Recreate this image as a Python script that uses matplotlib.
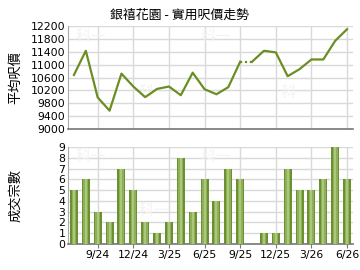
import matplotlib
matplotlib.use("Agg")
import matplotlib.pyplot as plt
import numpy as np

plt.rcParams['font.family'] = ['Noto Sans CJK TC', 'DejaVu Sans']

months = ['7/24', '8/24', '9/24', '10/24', '11/24', '12/24', '1/25', '2/25', '3/25',
          '4/25', '5/25', '6/25', '7/25', '8/25', '9/25', '10/25', '11/25', '12/25',
          '1/26', '2/26', '3/26', '4/26', '5/26', '6/26']
avg_price = [10680, 11430, 9980, 9570, 10720, 10320, 9990, 10245, 10320, 10050,
             10750, 10235, 10080, 10300, 11090, 11090, 11430, 11380, 10640, 10860,
             11160, 11160, 11740, 12100]
deals = [5, 6, 3, 2, 7, 5, 2, 1, 2, 8, 3, 6, 4, 7, 6, 0, 1, 1, 7, 5, 5, 6, 9, 6]
tick_labels = ['9/24', '12/24', '3/25', '6/25', '9/25', '12/25', '3/26', '6/26']
tick_idx = [months.index(m) for m in tick_labels]
dotted_from = 14  # 10/25 carries the 9/25 value, drawn dotted

line_col = '#6b8e23'
grid_col = '#d9d9d9'

fig = plt.figure(figsize=(3.6, 2.7), dpi=100)
ax1 = fig.add_axes([68/360, 1 - 129/270, 285/360, 103/270])
ax2 = fig.add_axes([68/360, 1 - 244/270, 285/360, 97/270])

x = np.arange(len(months))

# top: average price
ax1.plot(x[:dotted_from + 1], avg_price[:dotted_from + 1], color=line_col, lw=1.6)
ax1.plot(x[dotted_from:dotted_from + 2], avg_price[dotted_from:dotted_from + 2],
         color=line_col, lw=1.6, ls=(0, (1, 1.2)))
ax1.plot(x[dotted_from + 1:], avg_price[dotted_from + 1:], color=line_col, lw=1.6)
ax1.set_ylim(9000, 12200)
ax1.set_yticks(np.arange(9000, 12201, 400))
ax1.set_xlim(-0.5, 23.5)
ax1.set_xticks(tick_idx)
ax1.set_xticklabels([])
ax1.set_ylabel('平均呎價', fontsize=9.5)
ax1.yaxis.set_label_coords(-0.162, 0.5)
fig.text(0.5, 1 - 15/270, '銀禧花園 - 實用呎價走勢', fontsize=9.3,
         ha='center', va='center')

# bottom: number of deals, with a simple shaded look
ax2.bar(x, deals, width=0.68, color='#6a9030', zorder=2)
ax2.bar(x, deals, width=0.4, color='#8fb05a', zorder=3)
ax2.bar(x, deals, width=0.16, color='#aac77a', zorder=4)
ax2.set_ylim(0, 9)
ax2.set_yticks(range(0, 10))
ax2.set_xlim(-0.5, 23.5)
ax2.set_xticks(tick_idx)
ax2.set_xticklabels(tick_labels)
ax2.set_ylabel('成交宗數', fontsize=9.5)
ax2.yaxis.set_label_coords(-0.162, 0.5)

for ax in (ax1, ax2):
    ax.grid(True, color=grid_col, lw=1, zorder=0)
    ax.set_axisbelow(True)
    ax.spines['top'].set_visible(False)
    ax.spines['right'].set_visible(False)
    ax.spines['left'].set_color('#aaaaaa')
    ax.spines['bottom'].set_color('#777777')
    ax.spines['bottom'].set_linewidth(1.2)
    ax.tick_params(axis='y', length=0, pad=2)
    ax.tick_params(axis='x', length=3, color='#777777', pad=1)
    for lab in ax.get_yticklabels() + ax.get_xticklabels():
        lab.set_family('DejaVu Sans')
        lab.set_fontsize(7.8)
    # faint watermark
    for wx, wy in [(0.08, 0.9), (0.52, 0.9), (0.3, 0.35), (0.8, 0.35)]:
        ax.text(wx, wy, '科一', transform=ax.transAxes, fontsize=11,
                color='#f3f3f3', ha='center', va='center', zorder=1)
ax1.tick_params(axis='x', length=0)

fig.savefig('out.png', dpi=100)
